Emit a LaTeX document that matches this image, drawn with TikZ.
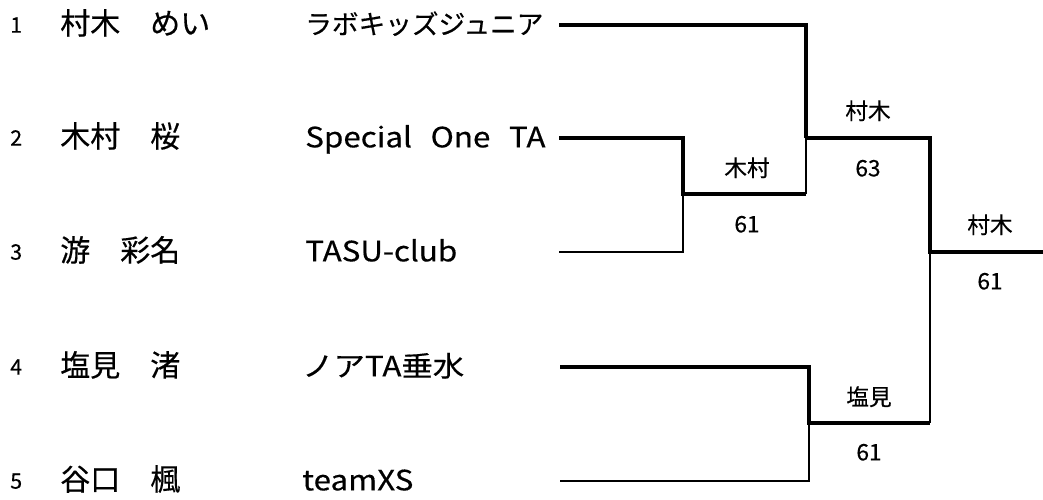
\documentclass[tikz,border=0pt]{standalone}
\usepackage{fontspec}
\setmainfont{Noto Sans CJK JP}[FakeBold=0.4]
\newfontfamily\clubfont{Noto Sans CJK JP}[FakeStretch=1.12, FakeBold=0.4]
\newfontfamily\kanafont{Noto Sans CJK JP}[FakeBold=0.4]

\tikzset{
  seed/.style={anchor=west, inner sep=0pt, text height=11.5pt, text depth=0pt, font=\fontsize{16}{16}\selectfont},
  player/.style={anchor=west, inner sep=0pt, text height=17pt, text depth=0pt, font=\fontsize{22.5}{24}\selectfont},
  club/.style={anchor=west, inner sep=0pt, text height=15.5pt, text depth=0pt, font=\clubfont\fontsize{21}{22}\selectfont},
  result/.style={inner sep=0pt, text height=12.5pt, text depth=0pt, font=\fontsize{17}{18}\selectfont},
  won/.style={line width=3pt},
  lost/.style={line width=1.5pt},
  half/.style={line width=2.2pt}
}

\begin{document}
\begin{tikzpicture}[x=0.75pt, y=-0.75pt, line join=miter]
        \useasboundingbox (0, 0) rectangle (1043, 500);

        % players
        \node[seed] (n1) at (10, 25) {1};
        \node[seed] (n2) at (10, 138) {2};
        \node[seed] (n3) at (10, 252) {3};
        \node[seed] (n4) at (10, 367) {4};
        \node[seed] (n5) at (10, 481) {5};

        \node[player] (p1) at (60, 23) {村木　めい};
        \node[player] (p2) at (60, 136) {木村　桜};
        \node[player] (p3) at (60, 250) {游　彩名};
        \node[player] (p4) at (60, 365) {塩見　渚};
        \node[player] (p5) at (60, 479) {谷口　楓};

        \node[club, text height=15pt] (c1) at (305, 24) {\kanafont\fontsize{20}{22}\selectfont ラボキッズジュニア};
        \node[club] (c2) at (305, 137) {Special\hspace{14pt}One\hspace{14pt}TA};
        \node[club] (c3) at (305, 251) {TASU-club};
        \node[club] (c4) at (302, 366) {ノアTA垂水};
        \node[club] (c5) at (302, 480) {teamXS};

        % bracket points
        \coordinate (e1) at (559, 25);
        \coordinate (e2) at (559, 138);
        \coordinate (e3) at (559, 252);
        \coordinate (e4) at (560, 367);
        \coordinate (e5) at (560, 481);
        \coordinate (mA) at (683, 194);
        \coordinate (mB) at (806, 138);
        \coordinate (mC) at (809, 423);
        \coordinate (mF) at (930, 252);
        \coordinate (champ) at (1043, 252);

        \draw[won] (e1) -| (mB);
        \draw[won] (e2) -| (mA) -- (mA -| mB);
        \draw[lost] (mA -| mB) -- (mB);
        \draw[lost] (e3) -| (mA);
        \draw[won] (mB) -| (mF) -- (champ);
        \draw[won] (e4) -| (mC) -- (mC -| mF);
        \draw[half] (mC -| mF) -- (mF);
        \draw[lost] (e5) -| (mC);

        % results
        \node[result] (wA) at (747, 168) {木村};
        \node[result] (sA) at (747, 224) {61};
        \node[result] (wB) at (868, 111) {村木};
        \node[result] (sB) at (868, 168) {63};
        \node[result] (wF) at (990, 225) {村木};
        \node[result] (sF) at (990, 281) {61};
        \node[result] (wC) at (869, 397) {塩見};
        \node[result] (sC) at (869, 452) {61};

        \end{tikzpicture}
\end{document}
